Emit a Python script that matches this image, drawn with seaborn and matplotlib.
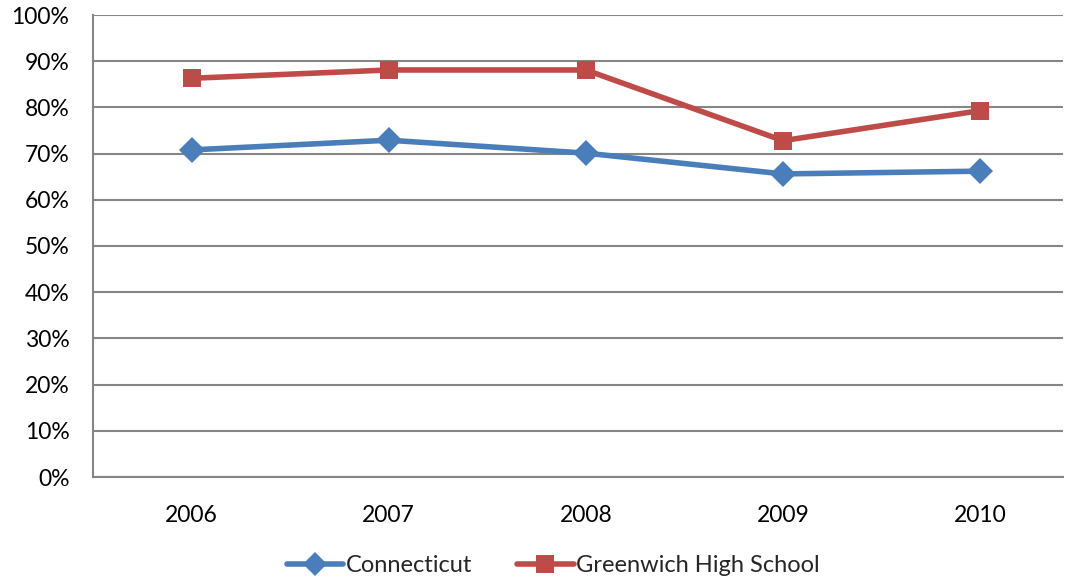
import numpy as np
import pandas as pd
import seaborn as sns
import matplotlib
matplotlib.use('Agg')
import matplotlib.pyplot as plt
from matplotlib.ticker import FixedLocator

# data
years = ['2006', '2007', '2008', '2009', '2010']
connecticut = [70.8, 72.9, 70.1, 65.6, 66.2]
greenwich = [86.3, 88.1, 88.1, 72.8, 79.3]
series = ['Connecticut', 'Greenwich High School']

df = pd.DataFrame({
    'year': years * 2,
    'pct': connecticut + greenwich,
    'school': [series[0]] * 5 + [series[1]] * 5,
})
df['x'] = df['year'].map({y: i for i, y in enumerate(years)})

sns.set_style('white')
plt.rcParams['font.family'] = ['Lato', 'DejaVu Sans']

fig = plt.figure(figsize=(10.66, 5.83), dpi=100)
ax = fig.add_axes([93/1066, 1-477/583, (1063-93)/1066, (477-15)/583])

palette = {series[0]: '#4A7EBB', series[1]: '#BE4B48'}
markers = {series[0]: 'D', series[1]: 's'}
sns.lineplot(data=df, x='x', y='pct', hue='school', style='school',
             palette=palette, markers=markers, dashes=False,
             linewidth=4, markersize=13, markeredgewidth=0, ax=ax, legend=False)

ax.set_xlim(-0.5, 4.42)
ax.set_ylim(0, 100)
ax.set_yticks(np.arange(0, 101, 10))
ax.set_yticklabels([f'{v}%' for v in range(0, 101, 10)], fontsize=16.5, color='black')
ax.set_xticks(range(5))
ax.set_xticklabels(years, fontsize=16.5, color='black')
ax.xaxis.set_minor_locator(FixedLocator([0.5, 1.5, 2.5, 3.5]))
ax.tick_params(axis='x', which='major', length=0, pad=20)
ax.tick_params(axis='x', which='minor', length=8, color='#868686', width=1.5, direction='out')
ax.tick_params(axis='y', length=7, color='#868686', width=1.5, direction='out', pad=10)
ax.set_xlabel('')
ax.set_ylabel('')
ax.grid(axis='y', color='#868686', linewidth=1.5)
ax.set_axisbelow(True)
for s in ['top', 'right']:
    ax.spines[s].set_visible(False)
for s in ['left', 'bottom']:
    ax.spines[s].set_color('#868686')
    ax.spines[s].set_linewidth(1.5)

handles = [plt.Line2D([], [], color=palette[s], marker=markers[s], lw=4,
                      ms=13 if markers[s] == 's' else 12, mew=0) for s in series]
fig.legend(handles, series, loc='lower center', bbox_to_anchor=(0.519, -0.025), ncol=2,
           frameon=False, fontsize=17, handlelength=2.4, handletextpad=0.1,
           columnspacing=1.9)

fig.savefig('out.png', dpi=100)
